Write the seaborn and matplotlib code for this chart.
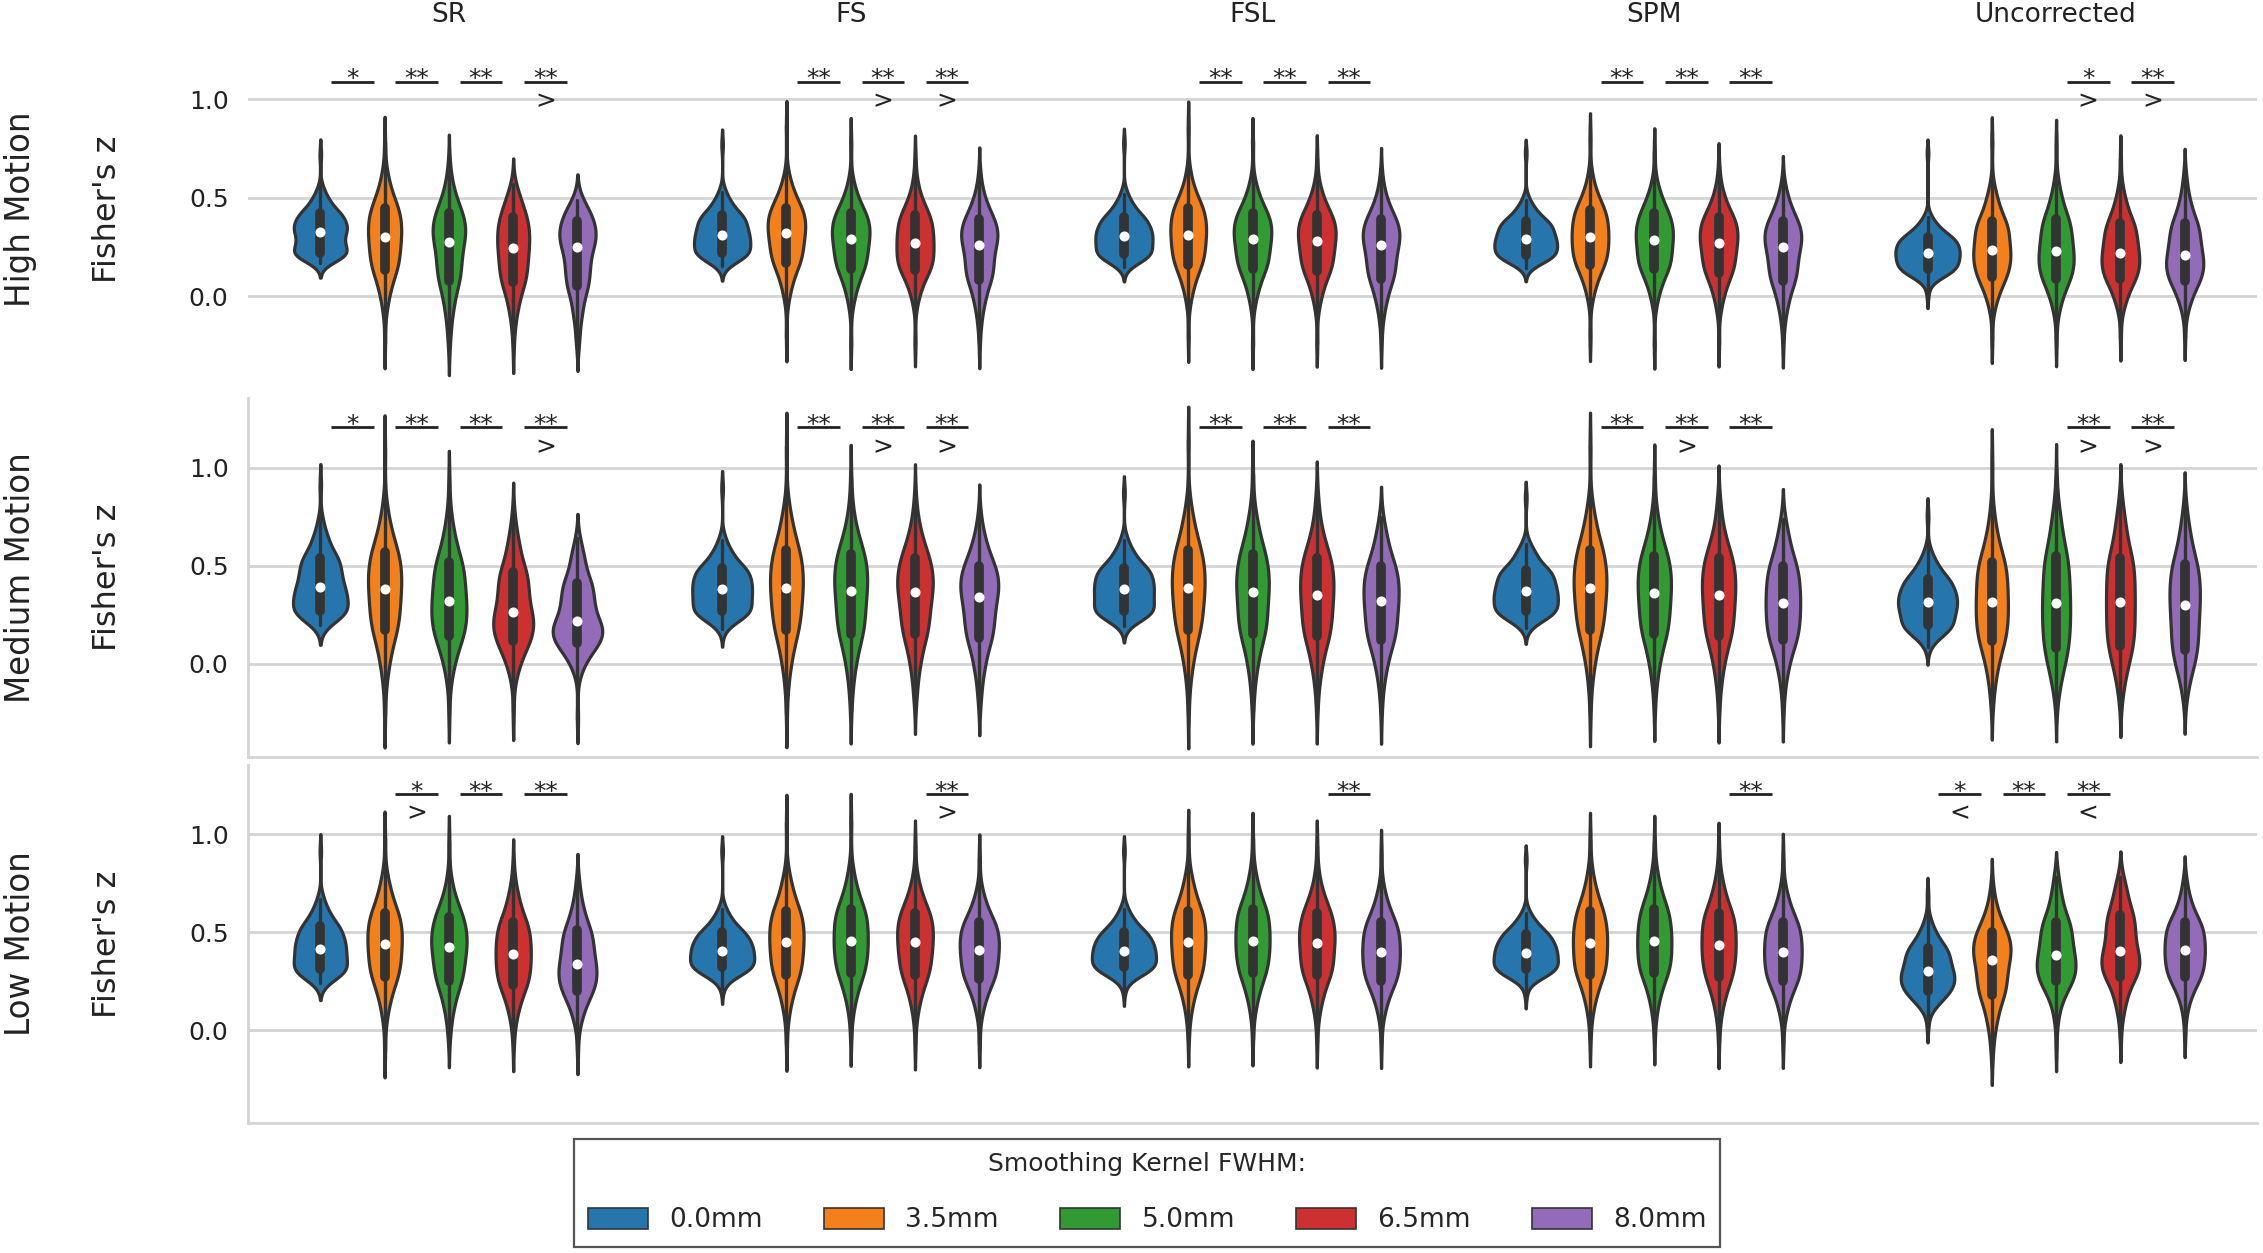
import numpy as np
import pandas as pd
import seaborn as sns
import matplotlib.pyplot as plt
from matplotlib.patches import Patch

# ---------------- data ----------------
methods = ["SR", "FS", "FSL", "SPM", "Uncorrected"]
kernels = ["0.0mm", "3.5mm", "5.0mm", "6.5mm", "8.0mm"]
motions = ["High Motion", "Medium Motion", "Low Motion"]

# relative share of observations at each of the 11 estimated support points
weights = [1, 3, 8, 16, 17, 18, 17, 16, 8, 3, 1]

# each list: estimated support points of Fisher's z (low tail .. q1 .. median .. q3 .. high tail)
high_sr = [[0.17, 0.185, 0.20, 0.22, 0.27, 0.325, 0.37, 0.42, 0.48, 0.54, 0.72],
           [-0.235, -0.063, 0.036, 0.135, 0.218, 0.30, 0.375, 0.45, 0.54, 0.63, 0.78],
           [-0.26, -0.164, -0.044, 0.076, 0.176, 0.275, 0.348, 0.42, 0.507, 0.594, 0.68],
           [-0.26, -0.14, -0.035, 0.07, 0.158, 0.245, 0.323, 0.40, 0.48, 0.53, 0.57],
           [-0.25, -0.19, -0.07, 0.05, 0.15, 0.25, 0.315, 0.38, 0.44, 0.47, 0.49]]
high_fs = [[0.155, 0.17, 0.195, 0.22, 0.265, 0.31, 0.36, 0.41, 0.47, 0.53, 0.77],
           [-0.21, -0.01, 0.08, 0.17, 0.245, 0.32, 0.385, 0.45, 0.53, 0.61, 0.87],
           [-0.25, -0.04, 0.05, 0.14, 0.215, 0.29, 0.355, 0.42, 0.50, 0.58, 0.785],
           [-0.24, -0.03, 0.054, 0.135, 0.20, 0.27, 0.34, 0.41, 0.49, 0.58, 0.70],
           [-0.24, -0.125, -0.02, 0.085, 0.17, 0.26, 0.325, 0.39, 0.47, 0.55, 0.63]]
high_fsl = [[0.15, 0.165, 0.19, 0.215, 0.26, 0.305, 0.35, 0.40, 0.46, 0.52, 0.775],
            [-0.21, -0.02, 0.07, 0.16, 0.235, 0.31, 0.38, 0.45, 0.53, 0.62, 0.865],
            [-0.25, -0.04, 0.05, 0.14, 0.215, 0.29, 0.355, 0.42, 0.50, 0.58, 0.785],
            [-0.24, -0.05, 0.04, 0.13, 0.205, 0.28, 0.345, 0.41, 0.49, 0.57, 0.70],
            [-0.24, -0.11, -0.01, 0.09, 0.175, 0.26, 0.325, 0.39, 0.47, 0.55, 0.63]]
high_spm = [[0.145, 0.16, 0.185, 0.21, 0.25, 0.29, 0.335, 0.38, 0.435, 0.49, 0.725],
            [-0.21, -0.01, 0.075, 0.16, 0.23, 0.30, 0.37, 0.44, 0.52, 0.61, 0.81],
            [-0.25, -0.03, 0.055, 0.14, 0.21, 0.285, 0.35, 0.42, 0.50, 0.58, 0.735],
            [-0.24, -0.06, 0.03, 0.12, 0.195, 0.27, 0.335, 0.40, 0.48, 0.56, 0.66],
            [-0.24, -0.12, -0.02, 0.08, 0.165, 0.25, 0.315, 0.38, 0.46, 0.53, 0.59]]
high_unc = [[0.01, 0.08, 0.11, 0.14, 0.18, 0.22, 0.26, 0.30, 0.35, 0.40, 0.725],
            [-0.22, -0.06, 0.02, 0.10, 0.17, 0.235, 0.31, 0.38, 0.47, 0.55, 0.79],
            [-0.23, -0.08, 0.005, 0.09, 0.16, 0.23, 0.31, 0.39, 0.485, 0.58, 0.77],
            [-0.21, -0.065, 0.01, 0.09, 0.155, 0.22, 0.295, 0.37, 0.46, 0.55, 0.70],
            [-0.205, -0.075, 0.0, 0.08, 0.145, 0.21, 0.29, 0.37, 0.465, 0.56, 0.63]]

med_sr = [[0.20, 0.22, 0.245, 0.27, 0.33, 0.39, 0.465, 0.54, 0.63, 0.72, 0.915],
          [-0.26, -0.08, 0.044, 0.17, 0.275, 0.38, 0.475, 0.57, 0.684, 0.80, 1.10],
          [-0.245, -0.076, 0.032, 0.14, 0.23, 0.32, 0.42, 0.52, 0.64, 0.76, 0.93],
          [-0.245, -0.065, 0.025, 0.115, 0.19, 0.265, 0.37, 0.47, 0.59, 0.69, 0.78],
          [-0.28, -0.035, 0.035, 0.105, 0.16, 0.22, 0.315, 0.41, 0.52, 0.60, 0.64]]
med_fs = [[0.175, 0.21, 0.24, 0.27, 0.325, 0.38, 0.435, 0.49, 0.56, 0.63, 0.895],
          [-0.255, -0.09, 0.04, 0.17, 0.28, 0.385, 0.48, 0.58, 0.70, 0.81, 1.11],
          [-0.24, -0.11, 0.02, 0.15, 0.26, 0.37, 0.465, 0.56, 0.67, 0.79, 0.95],
          [-0.20, -0.11, 0.02, 0.15, 0.26, 0.365, 0.45, 0.54, 0.645, 0.75, 0.86],
          [-0.215, -0.12, 0.004, 0.13, 0.235, 0.34, 0.42, 0.50, 0.60, 0.69, 0.765]]
med_fsl = [[0.195, 0.215, 0.245, 0.27, 0.325, 0.38, 0.435, 0.49, 0.56, 0.63, 0.87],
           [-0.26, -0.09, 0.04, 0.17, 0.28, 0.385, 0.48, 0.58, 0.70, 0.81, 1.14],
           [-0.24, -0.11, 0.02, 0.15, 0.255, 0.365, 0.46, 0.56, 0.68, 0.79, 0.97],
           [-0.245, -0.11, 0.014, 0.14, 0.245, 0.35, 0.445, 0.54, 0.65, 0.77, 0.87],
           [-0.255, -0.12, 0.0, 0.12, 0.22, 0.32, 0.41, 0.50, 0.61, 0.70, 0.75]]
med_spm = [[0.185, 0.21, 0.24, 0.27, 0.32, 0.37, 0.425, 0.48, 0.55, 0.61, 0.845],
           [-0.25, -0.09, 0.04, 0.17, 0.28, 0.385, 0.48, 0.58, 0.70, 0.81, 1.11],
           [-0.23, -0.10, 0.024, 0.15, 0.255, 0.36, 0.455, 0.55, 0.665, 0.78, 0.955],
           [-0.24, -0.11, 0.014, 0.14, 0.245, 0.35, 0.445, 0.54, 0.65, 0.77, 0.85],
           [-0.245, -0.11, 0.006, 0.12, 0.215, 0.31, 0.405, 0.50, 0.61, 0.70, 0.74]]
med_unc = [[0.085, 0.125, 0.16, 0.20, 0.26, 0.315, 0.37, 0.43, 0.50, 0.57, 0.755],
           [-0.22, -0.125, -0.005, 0.115, 0.215, 0.315, 0.42, 0.52, 0.64, 0.77, 1.03],
           [-0.215, -0.12, -0.03, 0.08, 0.195, 0.31, 0.43, 0.55, 0.69, 0.80, 0.94],
           [-0.20, -0.12, -0.02, 0.09, 0.20, 0.315, 0.43, 0.54, 0.675, 0.78, 0.845],
           [-0.19, -0.12, -0.03, 0.07, 0.185, 0.30, 0.405, 0.51, 0.635, 0.74, 0.81]]

low_sr = [[0.24, 0.255, 0.28, 0.31, 0.36, 0.415, 0.47, 0.53, 0.60, 0.67, 0.915],
          [-0.105, 0.066, 0.168, 0.27, 0.355, 0.44, 0.52, 0.60, 0.70, 0.79, 0.98],
          [-0.055, 0.04, 0.145, 0.25, 0.34, 0.425, 0.50, 0.58, 0.67, 0.77, 0.96],
          [-0.08, 0.038, 0.134, 0.23, 0.31, 0.39, 0.47, 0.55, 0.65, 0.74, 0.845],
          [-0.10, 0.032, 0.116, 0.20, 0.27, 0.34, 0.425, 0.51, 0.61, 0.71, 0.775]]
low_fs = [[0.21, 0.26, 0.29, 0.32, 0.36, 0.405, 0.45, 0.50, 0.56, 0.62, 0.915],
          [-0.07, 0.076, 0.178, 0.28, 0.365, 0.45, 0.53, 0.61, 0.71, 0.80, 1.065],
          [-0.045, 0.09, 0.19, 0.29, 0.375, 0.457, 0.54, 0.62, 0.72, 0.82, 1.07],
          [-0.07, 0.078, 0.18, 0.28, 0.365, 0.448, 0.525, 0.60, 0.69, 0.78, 0.94],
          [-0.07, 0.08, 0.17, 0.26, 0.335, 0.41, 0.48, 0.55, 0.635, 0.72, 0.88]]
low_fsl = [[0.20, 0.26, 0.29, 0.32, 0.36, 0.405, 0.45, 0.50, 0.56, 0.62, 0.915],
           [-0.05, 0.076, 0.178, 0.28, 0.365, 0.45, 0.53, 0.61, 0.71, 0.80, 0.99],
           [-0.045, 0.09, 0.19, 0.29, 0.375, 0.457, 0.54, 0.62, 0.72, 0.82, 0.975],
           [-0.06, 0.082, 0.18, 0.28, 0.36, 0.445, 0.52, 0.60, 0.69, 0.79, 0.94],
           [-0.07, 0.07, 0.16, 0.25, 0.325, 0.40, 0.475, 0.55, 0.64, 0.73, 0.90]]
low_spm = [[0.185, 0.25, 0.28, 0.31, 0.35, 0.395, 0.44, 0.49, 0.545, 0.60, 0.87],
           [-0.05, 0.082, 0.18, 0.28, 0.36, 0.445, 0.525, 0.61, 0.71, 0.81, 0.975],
           [-0.04, 0.09, 0.19, 0.29, 0.37, 0.453, 0.535, 0.62, 0.72, 0.82, 0.96],
           [-0.06, 0.07, 0.17, 0.27, 0.355, 0.437, 0.52, 0.60, 0.70, 0.795, 0.925],
           [-0.07, 0.07, 0.16, 0.25, 0.325, 0.40, 0.475, 0.55, 0.64, 0.73, 0.88]]
low_unc = [[0.025, 0.11, 0.15, 0.20, 0.25, 0.30, 0.36, 0.42, 0.49, 0.56, 0.69],
           [-0.15, -0.04, 0.07, 0.18, 0.27, 0.36, 0.43, 0.50, 0.585, 0.67, 0.745],
           [-0.085, 0.07, 0.17, 0.25, 0.315, 0.385, 0.47, 0.555, 0.66, 0.76, 0.785],
           [-0.035, 0.08, 0.17, 0.27, 0.335, 0.405, 0.50, 0.59, 0.69, 0.76, 0.785],
           [-0.025, 0.10, 0.19, 0.27, 0.34, 0.41, 0.48, 0.55, 0.635, 0.72, 0.775]]

panels = {
    "High Motion": [high_sr, high_fs, high_fsl, high_spm, high_unc],
    "Medium Motion": [med_sr, med_fs, med_fsl, med_spm, med_unc],
    "Low Motion": [low_sr, low_fs, low_fsl, low_spm, low_unc],
}

# significance marks: (method, first kernel index of the adjacent pair, stars, direction)
high_sig = [("SR", 0, "*", ""), ("SR", 1, "**", ""), ("SR", 2, "**", ""), ("SR", 3, "**", ">"),
            ("FS", 1, "**", ""), ("FS", 2, "**", ">"), ("FS", 3, "**", ">"),
            ("FSL", 1, "**", ""), ("FSL", 2, "**", ""), ("FSL", 3, "**", ""),
            ("SPM", 1, "**", ""), ("SPM", 2, "**", ""), ("SPM", 3, "**", ""),
            ("Uncorrected", 2, "*", ">"), ("Uncorrected", 3, "**", ">")]
med_sig = [("SR", 0, "*", ""), ("SR", 1, "**", ""), ("SR", 2, "**", ""), ("SR", 3, "**", ">"),
           ("FS", 1, "**", ""), ("FS", 2, "**", ">"), ("FS", 3, "**", ">"),
           ("FSL", 1, "**", ""), ("FSL", 2, "**", ""), ("FSL", 3, "**", ""),
           ("SPM", 1, "**", ""), ("SPM", 2, "**", ">"), ("SPM", 3, "**", ""),
           ("Uncorrected", 2, "**", ">"), ("Uncorrected", 3, "**", ">")]
low_sig = [("SR", 1, "*", ">"), ("SR", 2, "**", ""), ("SR", 3, "**", ""),
           ("FS", 3, "**", ">"), ("FSL", 3, "**", ""), ("SPM", 3, "**", ""),
           ("Uncorrected", 0, "*", "<"), ("Uncorrected", 1, "**", ""), ("Uncorrected", 2, "**", "<")]
sig_marks = {"High Motion": high_sig, "Medium Motion": med_sig, "Low Motion": low_sig}

# ---------------- long table ----------------
records = []
for motion, per_method in panels.items():
    for method, per_kernel in zip(methods, per_method):
        for kernel, vals in zip(kernels, per_kernel):
            for v, w in zip(vals, weights):
                records.extend([(motion, method, kernel, v)] * w)
df = pd.DataFrame(records, columns=["motion", "method", "kernel", "z"])

# ---------------- style ----------------
sns.set_theme(style="whitegrid")
plt.rcParams["font.family"] = ["DejaVu Sans"]
SAT = 0.9
base = sns.color_palette("tab10", 5)
colors = [sns.desaturate(c, SAT) for c in base]

W, H = 2263, 1253
fig = plt.figure(figsize=(W / 100, H / 100), dpi=100)

row_px = [(29, 390), (398, 757), (765, 1123)]
left_px, right_px = 248, 2257
annot_y = [1.088, 1.205, 1.208]
ylim = (-0.475, 1.355)

for r, motion in enumerate(motions):
    top, bot = row_px[r]
    ax = fig.add_axes([left_px / W, 1 - bot / H, (right_px - left_px) / W, (bot - top) / H])
    sub = df[df["motion"] == motion]
    sns.violinplot(data=sub, x="method", y="z", hue="kernel", order=methods,
                   hue_order=kernels, palette=base, saturation=SAT, linewidth=2.3,
                   linecolor="#333333", bw_adjust=0.95, cut=2, inner="box",
                   inner_kws={"box_width": 7, "whis_width": 2.4, "marker": "o"},
                   density_norm="area", common_norm=True, legend=False, ax=ax)
    ax.set_ylim(*ylim)
    ax.set_xlim(-0.5, 4.5)
    ax.set_yticks([0.0, 0.5, 1.0])
    ax.set_yticklabels(["0.0", "0.5", "1.0"], fontsize=18)
    ax.tick_params(axis="y", length=0, pad=14, labelcolor="#222222")
    ax.tick_params(axis="x", length=0, labelbottom=False)
    ax.set_xlabel("")
    ax.set_ylabel("")
    ax.grid(axis="y", color="#d4d4d4", linewidth=2)
    ax.grid(axis="x", visible=False)
    for side in ["top", "right"]:
        ax.spines[side].set_visible(False)
    for side in ["left", "bottom"]:
        ax.spines[side].set_color("#d4d4d4")
        ax.spines[side].set_linewidth(2)
        ax.spines[side].set_visible(r > 0)

    # row labels
    yc = 1 - (top + bot) / 2 / H
    fig.text(107 / W, yc, "Fisher's z", rotation=90, ha="center", va="center",
             fontsize=23, color="#222222")
    fig.text(21 / W, yc, motion, rotation=90, ha="center", va="center",
             fontsize=23.5, color="#222222")

    # column titles
    if r == 0:
        for i, m in enumerate(methods):
            ax.text(i, 1 + 14 / (bot - top), m, transform=ax.get_xaxis_transform(),
                    ha="center", va="center", fontsize=19, color="#222222")

    # significance marks
    y = annot_y[r]
    for method, k, stars, direction in sig_marks[motion]:
        i = methods.index(method)
        x0 = i + (k - 2) * 0.16 + 0.027
        x1 = i + (k - 1) * 0.16 - 0.027
        ax.plot([x0, x1], [y, y], color="#222222", lw=2, clip_on=False,
                solid_capstyle="butt")
        label = stars + ("\n" + direction if direction else "")
        ax.text((x0 + x1) / 2, y + 0.072, label, ha="center", va="top",
                fontsize=18, linespacing=0.89, multialignment="center",
                color="#222222")

handles = [Patch(facecolor=c, edgecolor="#333333", linewidth=1.2, label=k)
           for c, k in zip(colors, kernels)]
leg = fig.legend(handles=handles, loc="lower center", bbox_to_anchor=(0.507, 0.003),
                 ncol=5, title="Smoothing Kernel FWHM:", fontsize=19, title_fontsize=18,
                 frameon=True, fancybox=False, edgecolor="#555555", framealpha=1,
                 handlelength=2.3, handleheight=0.85, handletextpad=0.8,
                 columnspacing=2.3, labelspacing=1.2, borderpad=0.5, borderaxespad=0.1)
leg.get_frame().set_linewidth(1.6)

fig.savefig("out.png", dpi=100)
